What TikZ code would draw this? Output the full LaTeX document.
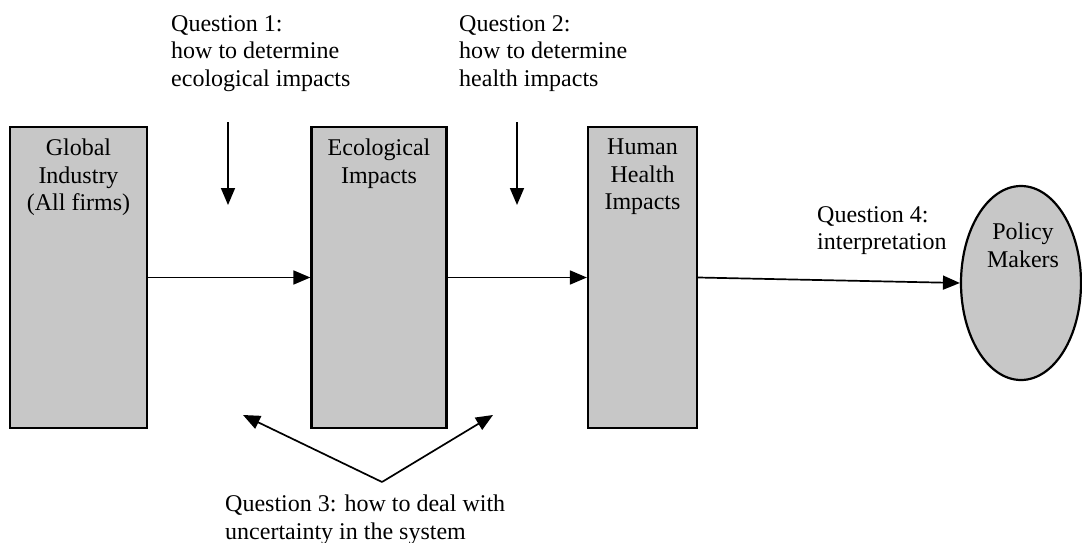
\documentclass[tikz,border=0pt]{standalone}
\usepackage{fontspec}
\setmainfont{Liberation Serif}
\usetikzlibrary{arrows.meta,shapes.geometric}

\begin{document}
\begin{tikzpicture}[x=1pt,y=-1pt,
    stage/.style={draw=black, line width=2.2pt, fill=black!22, minimum width=#1, minimum height=301pt, inner sep=0pt},
    words/.style={font=\fontsize{24}{27.5}\selectfont, inner sep=0pt},
    flow/.style={line width=1.7pt, -{Triangle[length=17pt,width=14pt]}}]
    \useasboundingbox (0,0) rectangle (1082,543);

    % stages
    \node[stage=137pt] (industry) at (78.5,277.5) {};
    \node[stage=135pt] (ecology) at (379,277.5) {};
    \node[stage=109pt] (health) at (642.5,277.5) {};
    \node[ellipse, draw=black, line width=2.2pt, fill=black!22, minimum width=120pt, minimum height=194pt, inner sep=0pt] (policy) at (1021,283) {};

    \node[words, anchor=north, align=center] (industrytext) at ([yshift=-13pt]industry.north) {Global\\Industry\\(All firms)};
    \node[words, anchor=north, align=center] (ecologytext) at ([yshift=-13pt]ecology.north) {Ecological\\Impacts};
    \node[words, anchor=north, align=center] (healthtext) at ([yshift=-13pt]health.north) {Human\\Health\\Impacts};
    \node[words, anchor=north, align=center] (policytext) at (1023,223) {Policy\\Makers};

    % questions
    \node[words, anchor=north west, align=left] (qone) at (171,15) {Question 1:\\how to determine\\ecological impacts};
    \node[words, anchor=north west, align=left] (qtwo) at (459,15) {Question 2:\\how to determine\\health impacts};
    \node[words, anchor=north west, align=left] (qfour) at (817,206) {Question 4:\\interpretation};
    \node[words, anchor=north west, align=left] (qthree) at (225,495) {Question 3: how to deal with\\uncertainty in the system};

    % flow between stages
    \draw[flow] (industry.east) -- (ecology.west);
    \draw[flow] (ecology.east) -- (health.west);
    \draw[flow] (health.east) -- (policy.west);

    % question arrows
    \coordinate (qonestart) at (228,122);
    \coordinate (qoneend) at (228,205);
    \coordinate (qtwostart) at (517,122);
    \coordinate (qtwoend) at (517,205);
    \draw[flow] (qonestart) -- (qoneend);
    \draw[flow] (qtwostart) -- (qtwoend);

    \coordinate (apex) at (382,482);
    \coordinate (qthreeleft) at (243,415);
    \coordinate (qthreeright) at (493,415);
    \draw[flow] (apex) -- (qthreeleft);
    \draw[flow] (apex) -- (qthreeright);
\end{tikzpicture}
\end{document}
